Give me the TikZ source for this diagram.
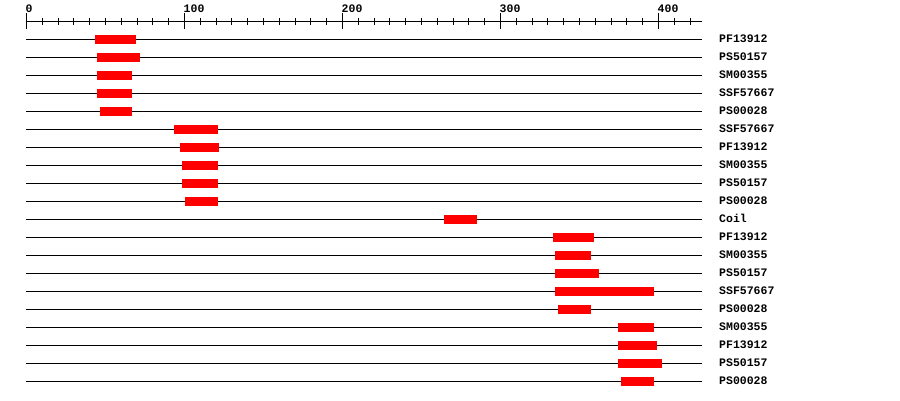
\documentclass[tikz,border=0pt]{standalone}
\usepackage{fontspec}
\newfontfamily\monofont{Liberation Mono}
\begin{document}
\begin{tikzpicture}[x=1pt,y=-1pt,
  rowline/.style={draw=black,line width=1pt},
  hit/.style={fill=red,draw=none},
  lbl/.style={font=\monofont\bfseries\fontsize{11.5}{12}\selectfont,anchor=west,inner sep=0pt},
  axlbl/.style={font=\monofont\bfseries\fontsize{11.5}{12}\selectfont,anchor=south west,inner sep=0pt}]
\useasboundingbox (0,0) rectangle (900,400);
% axis
\coordinate (axL) at (26.5,21.5);
\coordinate (axR) at (702,21.5);
\draw[rowline] (axL) -- (axR);
\foreach \k in {0,...,42}{
  \pgfmathsetmacro{\xx}{26.5+15.8*\k}
  \draw[line width=1pt] (\xx,18) -- (\xx,25);
}
\foreach \k/\t in {0/0,1/100,2/200,3/300,4/400}{
  \pgfmathsetmacro{\xx}{26.5+158*\k}
  \draw[line width=1pt] (\xx,13) -- (\xx,29);
  \node[axlbl] (ax\k) at (\xx-1,12.5) {\t};
}
% rows
\foreach \i/\a/\b/\name in {
  0/95/135.7/PF13912,
  1/97/139.7/PS50157,
  2/97/131.7/SM00355,
  3/97/131.7/SSF57667,
  4/100/131.7/PS00028,
  5/174/218/SSF57667,
  6/180/219/PF13912,
  7/182/218/SM00355,
  8/182/218/PS50157,
  9/185/218/PS00028,
  10/444/477/Coil,
  11/553/594/PF13912,
  12/555/591/SM00355,
  13/555/599/PS50157,
  14/555/654/SSF57667,
  15/558/591/PS00028,
  16/618/654/SM00355,
  17/618/657/PF13912,
  18/618/662/PS50157,
  19/621/654/PS00028}{
  \pgfmathsetmacro{\yy}{39+18*\i}
  \coordinate (l\i) at (26,\yy);
  \coordinate (r\i) at (702,\yy);
  \draw[rowline] (l\i) -- (r\i);
  \fill[hit] (\a,\yy-4.5) rectangle (\b,\yy+4.5);
  \node[lbl] (n\i) at (719,\yy-0.5) {\name};
}
\end{tikzpicture}
\end{document}
